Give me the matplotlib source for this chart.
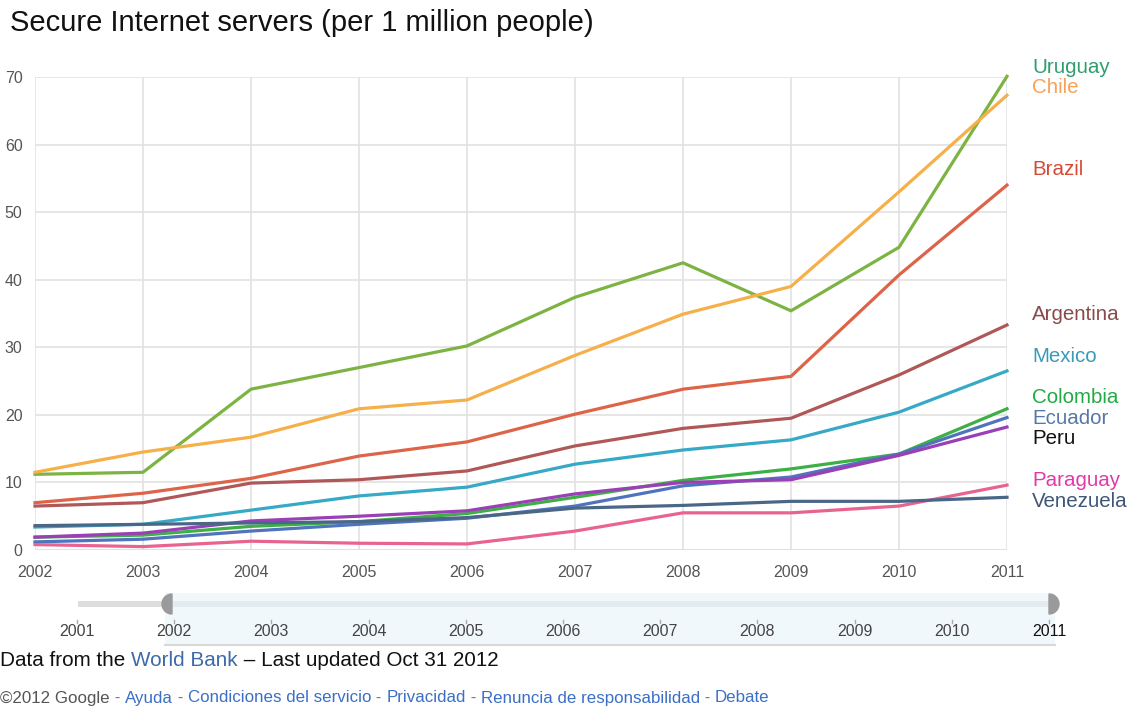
import matplotlib.pyplot as plt
from matplotlib.patches import Rectangle, Wedge

plt.rcParams['font.family'] = ['Liberation Sans', 'DejaVu Sans']

# Secure Internet servers per 1 million people, 2002-2011
years = [2002, 2003, 2004, 2005, 2006, 2007, 2008, 2009, 2010, 2011]

uruguay   = [11.2, 11.5, 23.8, 27.0, 30.2, 37.4, 42.5, 35.4, 44.8, 70.1]
chile     = [11.5, 14.5, 16.7, 20.9, 22.2, 28.8, 34.9, 39.0, 53.0, 67.3]
brazil    = [7.0, 8.4, 10.6, 13.9, 16.0, 20.1, 23.8, 25.7, 40.7, 54.0]
argentina = [6.5, 7.0, 9.9, 10.4, 11.7, 15.4, 18.0, 19.5, 25.9, 33.3]
mexico    = [3.4, 3.8, 5.9, 8.0, 9.3, 12.7, 14.8, 16.3, 20.4, 26.5]
colombia  = [1.9, 2.2, 3.5, 4.2, 5.4, 7.8, 10.3, 12.0, 14.2, 20.9]
ecuador   = [1.2, 1.6, 2.8, 3.8, 4.7, 6.5, 9.5, 10.8, 14.2, 19.6]
peru      = [1.9, 2.5, 4.3, 5.0, 5.8, 8.3, 10.0, 10.4, 14.0, 18.2]
paraguay  = [0.8, 0.5, 1.3, 1.0, 0.9, 2.8, 5.5, 5.5, 6.5, 9.6]
venezuela = [3.6, 3.8, 4.0, 4.2, 4.8, 6.2, 6.6, 7.2, 7.2, 7.8]

countries = ['Uruguay', 'Chile', 'Brazil', 'Argentina', 'Mexico',
             'Colombia', 'Ecuador', 'Peru', 'Paraguay', 'Venezuela']
series = [uruguay, chile, brazil, argentina, mexico,
          colombia, ecuador, peru, paraguay, venezuela]
line_colors = ['#7cb342', '#f6b04a', '#dd6448', '#b05858', '#35a9c5',
               '#3cb044', '#4f74bd', '#9a3fb5', '#e8648e', '#4a6788']
label_colors = ['#2e9e6e', '#f5a25a', '#d64a34', '#8a4a4a', '#3a9ab5',
                '#22aa44', '#5677a8', '#111111', '#e03aa8', '#3f5676']
# label y positions (data units) so the names don't collide
label_y = [71.4, 68.5, 56.3, 34.9, 28.7, 22.6, 19.5, 16.5, 10.3, 7.2]

slider_years = list(range(2001, 2012))

W, H = 1141, 708
fig = plt.figure(figsize=(W / 100, H / 100), dpi=100)

ax = fig.add_axes([35 / W, 1 - 550 / H, (1007 - 35) / W, (550 - 77) / H])
for name, vals, c in zip(countries, series, line_colors):
    ax.plot(years, vals, color=c, lw=2.3, solid_joinstyle='round', clip_on=False, zorder=3)

ax.set_xlim(2002, 2011)
ax.set_ylim(0, 70)
ax.set_xticks(years)
ax.set_yticks(range(0, 80, 10))
ax.grid(True, color='#e2e2e2', lw=1.2)
for s in ax.spines.values():
    s.set_visible(False)
ax.tick_params(length=0, colors='#555555', labelsize=11.5)
ax.tick_params(axis='x', pad=11)
ax.tick_params(axis='y', pad=9)
ax.axhline(0, color='#dddddd', lw=1.5, zorder=1)

for name, ly, c in zip(countries, label_y, label_colors):
    ax.text(1.026, ly, name, transform=ax.get_yaxis_transform(), color=c,
            fontsize=14.8, va='center', ha='left')

fig.text(10 / W, 1 - 23 / H, 'Secure Internet servers (per 1 million people)',
         fontsize=21, va='center', ha='left', color='#111111')

# time slider under the chart
sax = fig.add_axes([0, 1 - 660 / H, 1, 75 / H])
sax.set_xlim(0, W)
sax.set_ylim(660, 585)
sax.axis('off')
x0, dx = 77, 97.2
sax.add_patch(Rectangle((78, 601), 165 - 78, 6, color='#dddddd', lw=0))
sax.add_patch(Rectangle((165, 593), 1055 - 165, 52, facecolor='#f1f8fc',
                        edgecolor='none'))
sax.plot([165, 1055], [645, 645], color='#d8d8d8', lw=1.5)
sax.add_patch(Rectangle((165, 601), 1055 - 165, 6, color='#e3ebef', lw=0))
sax.add_patch(Wedge((172, 604), 10, 90, 270, color='#9a9a9a'))
sax.add_patch(Wedge((1049, 604), 10, -90, 90, color='#9a9a9a'))
for i, yr in enumerate(slider_years):
    sx = x0 + i * dx
    sax.plot([sx, sx], [620, 623], color='#aaaaaa', lw=1)
    sax.text(sx, 632, str(yr), ha='center', va='center', fontsize=11.5,
             color='#111111' if yr == 2011 else '#444444')


def draw_runs(y, runs, size):
    # place text pieces one after another on one baseline
    renderer = fig.canvas.get_renderer()
    x = 0
    for txt, col in runs:
        t = fig.text(x / W, 1 - y / H, txt, fontsize=size, color=col,
                     va='center', ha='left')
        bb = t.get_window_extent(renderer)
        x += bb.width


draw_runs(660, [('Data from the ', '#111111'), ('World Bank', '#3d6aa8'),
                (' \u2013 Last updated Oct 31 2012', '#111111')], 14.9)

sep = ' - '
footer = [('\u00a92012 Google', '#555555')]
for link in ['Ayuda', 'Condiciones del servicio', 'Privacidad',
             'Renuncia de responsabilidad', 'Debate']:
    footer += [(sep, '#777777'), (link, '#3b6fc7')]
draw_runs(698, footer, 12.2)

fig.savefig('out.png', dpi=100)
